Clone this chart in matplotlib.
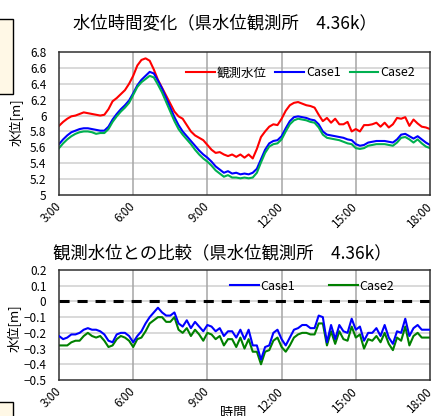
import matplotlib
matplotlib.use("Agg")
import matplotlib.pyplot as plt
import numpy as np
from matplotlib.patches import Rectangle

plt.rcParams["font.family"] = ["Noto Sans CJK JP", "DejaVu Sans"]

# 10-minute samples, 3:00 .. 18:00
hours = np.arange(91) / 6 + 3

observed = [
    5.87, 5.92, 5.96, 5.99, 6.00, 6.02,
    6.04, 6.03, 6.02, 6.01, 6.00, 6.01,
    6.08, 6.18, 6.22, 6.27, 6.32, 6.40,
    6.50, 6.63, 6.70, 6.72, 6.69, 6.58,
    6.45, 6.35, 6.25, 6.15, 6.05, 5.99,
    5.96, 5.88, 5.80, 5.75, 5.72, 5.69,
    5.63, 5.57, 5.53, 5.54, 5.51, 5.49,
    5.51, 5.48, 5.51, 5.47, 5.51, 5.46,
    5.58, 5.73, 5.80, 5.86, 5.89, 5.88,
    5.96, 6.06, 6.13, 6.16, 6.17, 6.15,
    6.13, 6.12, 6.10, 6.01, 5.93, 5.97,
    5.91, 5.96, 5.89, 5.89, 5.92, 5.80,
    5.83, 5.80, 5.88, 5.88, 5.89, 5.91,
    5.86, 5.91, 5.85, 5.89, 5.97, 5.96,
    5.98, 5.87, 5.95, 5.90, 5.86, 5.85,
    5.83,
]
case1 = [
    5.64, 5.70, 5.75, 5.79, 5.81, 5.83,
    5.84, 5.84, 5.83, 5.82, 5.81, 5.81,
    5.86, 5.95, 6.02, 6.08, 6.13, 6.19,
    6.28, 6.38, 6.45, 6.50, 6.55, 6.53,
    6.44, 6.34, 6.22, 6.10, 5.98, 5.88,
    5.80, 5.74, 5.68, 5.62, 5.56, 5.51,
    5.47, 5.42, 5.36, 5.32, 5.28, 5.30,
    5.27, 5.28, 5.26, 5.27, 5.26, 5.28,
    5.33, 5.45, 5.57, 5.65, 5.68, 5.69,
    5.74, 5.84, 5.93, 5.98, 5.99, 5.98,
    5.97, 5.95, 5.94, 5.89, 5.80, 5.76,
    5.75, 5.74, 5.73, 5.72, 5.70, 5.69,
    5.64, 5.62, 5.63, 5.66, 5.67, 5.68,
    5.68, 5.68, 5.67, 5.66, 5.70, 5.76,
    5.77, 5.74, 5.71, 5.74, 5.70, 5.66,
    5.63,
]
case2 = [
    5.59, 5.65, 5.70, 5.74, 5.77, 5.79,
    5.80, 5.80, 5.79, 5.77, 5.78, 5.78,
    5.83, 5.92, 5.99, 6.05, 6.10, 6.16,
    6.26, 6.36, 6.42, 6.46, 6.50, 6.48,
    6.39, 6.29, 6.17, 6.05, 5.93, 5.83,
    5.76, 5.70, 5.64, 5.57, 5.51, 5.46,
    5.42, 5.37, 5.31, 5.27, 5.23, 5.25,
    5.22, 5.22, 5.21, 5.22, 5.21, 5.22,
    5.28, 5.41, 5.53, 5.61, 5.64, 5.65,
    5.70, 5.80, 5.89, 5.94, 5.96, 5.95,
    5.94, 5.92, 5.91, 5.85, 5.76, 5.72,
    5.71, 5.70, 5.69, 5.67, 5.65, 5.64,
    5.59, 5.58, 5.59, 5.62, 5.63, 5.64,
    5.64, 5.64, 5.63, 5.62, 5.66, 5.72,
    5.73, 5.70, 5.66, 5.70, 5.65, 5.61,
    5.59,
]

# difference from observed level (case - observed)
diff_case1 = [
    -0.22, -0.24, -0.23, -0.21, -0.21, -0.20,
    -0.18, -0.17, -0.18, -0.18, -0.19, -0.21,
    -0.25, -0.26, -0.21, -0.20, -0.20, -0.22,
    -0.26, -0.22, -0.19, -0.14, -0.10, -0.07,
    -0.04, -0.07, -0.09, -0.09, -0.07, -0.14,
    -0.16, -0.12, -0.17, -0.13, -0.16, -0.19,
    -0.15, -0.16, -0.19, -0.17, -0.22, -0.19,
    -0.19, -0.23, -0.18, -0.24, -0.18, -0.28,
    -0.28, -0.37, -0.29, -0.28, -0.20, -0.18,
    -0.24, -0.28, -0.23, -0.18, -0.17, -0.15,
    -0.15, -0.17, -0.17, -0.09, -0.10, -0.26,
    -0.15, -0.24, -0.15, -0.19, -0.20, -0.11,
    -0.18, -0.16, -0.25, -0.20, -0.20, -0.17,
    -0.22, -0.15, -0.23, -0.27, -0.19, -0.20,
    -0.11, -0.22, -0.17, -0.15, -0.18, -0.18,
    -0.18,
]
diff_case2 = [
    -0.28, -0.28, -0.28, -0.26, -0.25, -0.25,
    -0.22, -0.20, -0.22, -0.23, -0.22, -0.25,
    -0.29, -0.28, -0.24, -0.22, -0.23, -0.25,
    -0.29, -0.24, -0.23, -0.19, -0.14, -0.12,
    -0.10, -0.10, -0.13, -0.13, -0.10, -0.18,
    -0.20, -0.17, -0.22, -0.18, -0.21, -0.25,
    -0.20, -0.21, -0.24, -0.22, -0.28, -0.24,
    -0.24, -0.29, -0.23, -0.30, -0.24, -0.32,
    -0.32, -0.40, -0.32, -0.31, -0.25, -0.23,
    -0.29, -0.32, -0.28, -0.23, -0.21, -0.20,
    -0.20, -0.21, -0.21, -0.14, -0.14, -0.28,
    -0.19, -0.27, -0.19, -0.24, -0.25, -0.16,
    -0.23, -0.21, -0.30, -0.24, -0.25, -0.22,
    -0.26, -0.20, -0.27, -0.31, -0.23, -0.25,
    -0.16, -0.28, -0.22, -0.20, -0.23, -0.23,
    -0.23,
]

x_ticks = [3, 6, 9, 12, 15, 18]
x_labels = ["3:00", "6:00", "9:00", "12:00", "15:00", "18:00"]
top_yticks = [5.0, 5.2, 5.4, 5.6, 5.8, 6.0, 6.2, 6.4, 6.6, 6.8]
bot_yticks = [-0.5, -0.4, -0.3, -0.2, -0.1, 0.0, 0.1, 0.2]

W, H = 435, 416
fig = plt.figure(figsize=(W / 100, H / 100), dpi=100)


def fx(px):
    return px / W


def fy(py):
    return 1 - py / H


def style_axes(ax, yticks, ylabels):
    ax.set_xlim(3, 18)
    ax.set_ylim(yticks[0], yticks[-1])
    ax.set_yticks(yticks)
    ax.set_yticklabels(ylabels)
    ax.set_xticks(x_ticks)
    ax.set_xticklabels(x_labels, rotation=45, ha="right", va="center",
                       rotation_mode="anchor")
    ax.tick_params(axis="y", length=0, pad=9, labelsize=8.5)
    ax.tick_params(axis="x", length=0, pad=7, labelsize=8.5)
    for y in yticks[1:-1]:
        ax.axhline(y, color="#d9d9d9", lw=1.4, zorder=0)
    for x in x_ticks[1:-1]:
        ax.axvline(x, color="#a6a6a6", lw=1.1, zorder=0)
    for s in ax.spines.values():
        s.set_color("#303030")
        s.set_linewidth(1.1)


def fmt(v):
    s = f"{v:g}"
    return s.replace("-", "\u2212")


# upper: water level
ax1 = fig.add_axes([fx(59), fy(195), fx(430 - 59), (195 - 52) / H])
ax1.plot(hours, observed, color="#ff0000", lw=1.5, label="観測水位")
ax1.plot(hours, case1, color="#0000ff", lw=1.5, label="Case1")
ax1.plot(hours, case2, color="#00b050", lw=1.5, label="Case2")
style_axes(ax1, top_yticks, [fmt(v) for v in top_yticks])
ax1.legend(loc="center left", bbox_to_anchor=(fx(186), fy(73)),
           bbox_transform=fig.transFigure, ncol=3, frameon=False,
           fontsize=9, handlelength=2.3, handletextpad=0.15,
           columnspacing=0.7, borderpad=0, borderaxespad=0)

# lower: difference from observed
ax2 = fig.add_axes([fx(59), fy(380), fx(430 - 59), (380 - 270) / H])
ax2.axhline(0, color="black", lw=2.2, dashes=(3.3, 2.6), zorder=1)
ax2.plot(hours, diff_case1, color="#0000ff", lw=1.5, label="Case1", zorder=3)
ax2.plot(hours, diff_case2, color="#008000", lw=1.5, label="Case2", zorder=2)
style_axes(ax2, bot_yticks, [fmt(round(v, 1)) for v in bot_yticks])
ax2.legend(loc="center left", bbox_to_anchor=(fx(230), fy(286)),
           bbox_transform=fig.transFigure, ncol=2, frameon=False,
           fontsize=9, handlelength=2.3, handletextpad=0.15,
           columnspacing=2.7, borderpad=0, borderaxespad=0)

fig.text(fx(225), fy(23), "水位時間変化（県水位観測所　4.36k）",
         ha="center", va="center", fontsize=12.5)
fig.text(fx(222), fy(253), "観測水位との比較（県水位観測所　4.36k）",
         ha="center", va="center", fontsize=12.5)
fig.text(fx(17), fy(122), "水位[m]", rotation=90, ha="center", va="center",
         fontsize=9.5)
fig.text(fx(15), fy(328), "水位[m]", rotation=90, ha="center", va="center",
         fontsize=9.5)
fig.text(fx(233), fy(407), "時間", ha="center", va="top", fontsize=9.5)

# neighbouring boxes cut at the left edge
fig.add_artist(Rectangle((-0.01, fy(94)), fx(13) + 0.01, (94 - 19) / H,
                         transform=fig.transFigure, facecolor="#fff8e6",
                         edgecolor="black", lw=1))
fig.add_artist(Rectangle((-0.01, -0.02), fx(13) + 0.01, (416 - 402) / H + 0.02,
                         transform=fig.transFigure, facecolor="#fff8e6",
                         edgecolor="black", lw=1))

fig.savefig("out.png", dpi=100)
